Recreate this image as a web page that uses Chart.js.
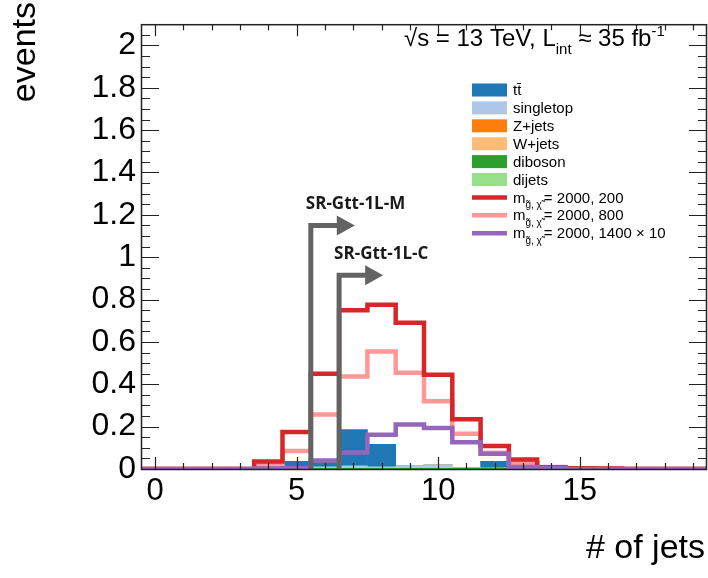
<!DOCTYPE html>
<html>
<head>
<meta charset="utf-8">
<script src="https://cdn.jsdelivr.net/npm/chart.js@4/dist/chart.umd.min.js"></script>
<style>
  html, body { margin: 0; padding: 0; background: #fff; }
  #wrap { width: 708px; height: 578px; }
</style>
</head>
<body>
<div id="wrap"><canvas id="jetsChart"></canvas></div>
<script>
/******************* jet multiplicity, stacked backgrounds + signals ***********************/
// one bin per jet count, bin n spans n-0.5 .. n+0.5
const nJets = [0, 1, 2, 3, 4, 5, 6, 7, 8, 9, 10, 11, 12, 13, 14, 15, 16, 17, 18, 19];

// backgrounds (stacked)
const ttbar     = [0, 0, 0, 0, 0.020, 0.025, 0.020, 0.170, 0.107, 0, 0, 0, 0.030, 0, 0, 0, 0, 0, 0, 0];
const singletop = [0, 0, 0, 0, 0.005, 0.008, 0.007, 0.012, 0.007, 0.011, 0.015, 0.004, 0.003, 0, 0, 0, 0, 0, 0, 0];
const zjets     = [0, 0, 0, 0, 0, 0, 0, 0, 0, 0, 0, 0, 0, 0, 0, 0, 0, 0, 0, 0];
const wjets     = [0, 0, 0, 0, 0, 0, 0, 0, 0, 0, 0, 0, 0, 0, 0, 0, 0, 0, 0, 0];
const diboson   = [0, 0, 0, 0, 0, 0.003, 0.003, 0.003, 0.003, 0.003, 0.003, 0.003, 0.003, 0.003, 0, 0, 0, 0, 0, 0];
const dijets    = [0, 0, 0, 0, 0, 0, 0, 0, 0, 0, 0, 0, 0, 0, 0, 0, 0, 0, 0, 0];

// signals (gluino, neutralino masses)
const sig2000_200  = [0, 0, 0, 0, 0.035, 0.175, 0.450, 0.750, 0.775, 0.690, 0.445, 0.235, 0.108, 0.045, 0.008, 0.004, 0.002, 0, 0, 0];
const sig2000_800  = [0, 0, 0, 0, 0.020, 0.085, 0.257, 0.437, 0.555, 0.455, 0.320, 0.167, 0.077, 0.027, 0.010, 0.004, 0.003, 0, 0, 0];
const sig2000_1400 = [0, 0, 0, 0, 0.002, 0.004, 0.040, 0.078, 0.162, 0.210, 0.194, 0.126, 0.072, 0.010, 0.005, 0, 0, 0, 0, 0]; // x10

const bkgNames = ['tt\u0304', 'singletop', 'Z+jets', 'W+jets', 'diboson', 'dijets'];
const sigMasses = ['2000, 200', '2000, 800', '2000, 1400 \u00d7 10'];

// signal region cuts (>= 6 and >= 7 jets)
const cutNames = ['SR-Gtt-1L-M', 'SR-Gtt-1L-C'];
const cutJets = [5.5, 6.5];
const cutHeights = [1.15, 0.915];

const xTickValues = [0, 5, 10, 15];
const yTickValues = [0, 0.2, 0.4, 0.6, 0.8, 1, 1.2, 1.4, 1.6, 1.8, 2];

const FONT = '"Liberation Sans", Arial, sans-serif';

function barPoints(values) {
    return values.map((v, i) => ({x: nJets[i], y: v}));
}
// histogram outline: one point per left bin edge plus the last right edge
function stepPoints(values) {
    const pts = values.map((v, i) => ({x: nJets[i] - 0.5, y: v}));
    pts.push({x: nJets[nJets.length - 1] + 0.5, y: values[values.length - 1]});
    return pts;
}

function sigLine(values, color, stack) {
    return {
        type: 'line',
        data: stepPoints(values),
        borderColor: color,
        backgroundColor: color,
        borderWidth: 4.5,
        stepped: 'before',
        pointRadius: 0,
        fill: false,
        stack: stack,
        borderJoinStyle: 'miter',
        borderCapStyle: 'butt'
    };
}
function bkgBar(values, color) {
    return {
        type: 'bar',
        data: barPoints(values),
        backgroundColor: color,
        borderWidth: 0,
        barPercentage: 1.0,
        categoryPercentage: 1.0,
        stack: 'bkg'
    };
}

const data = {
    datasets: [
        sigLine(sig2000_1400, '#9467bd', 's3'),
        sigLine(sig2000_200, '#d62728', 's1'),
        sigLine(sig2000_800, '#ff9896', 's2'),
        bkgBar(diboson, '#2ca02c'),
        bkgBar(singletop, '#aec7e8'),
        bkgBar(ttbar, '#1f77b4'),
        bkgBar(zjets, '#ff7f0e'),
        bkgBar(wjets, '#ffbb78'),
        bkgBar(dijets, '#98df8a')
    ]
};
// legend entries -> dataset index
const bkgLegend = [5, 4, 6, 7, 3, 8];
const sigLegend = [1, 2, 0];

const rootStyle = {
    id: 'rootStyle',
    afterDatasetsDraw(chart) {
        const {ctx, chartArea: a, scales: {x, y}} = chart;
        ctx.save();

        // cut arrows
        cutJets.forEach((c, i) => {
            const px = x.getPixelForValue(c);
            const py = y.getPixelForValue(cutHeights[i]);
            ctx.strokeStyle = '#636363';
            ctx.fillStyle = '#636363';
            ctx.lineWidth = 5;
            ctx.lineJoin = 'miter';
            ctx.beginPath();
            ctx.moveTo(px, y.getPixelForValue(0) + 1);
            ctx.lineTo(px, py);
            ctx.lineTo(px + 27, py);
            ctx.stroke();
            ctx.beginPath();
            ctx.moveTo(px + 26, py - 10);
            ctx.lineTo(px + 44, py);
            ctx.lineTo(px + 26, py + 10);
            ctx.closePath();
            ctx.fill();
            ctx.fillStyle = '#1a1a1a';
            ctx.font = 'bold 17px "Open Sans"';
            ctx.textAlign = 'left';
            ctx.textBaseline = 'alphabetic';
            ctx.fillText(cutNames[i], px - 5, py - 16);
        });

        // frame
        ctx.strokeStyle = '#222';
        ctx.lineWidth = 1.5;
        ctx.strokeRect(a.left + 0.5, a.top + 0.5, a.right - a.left - 1, a.bottom - a.top);

        // inward ticks on all four sides
        ctx.lineWidth = 1.2;
        ctx.beginPath();
        for (let v = 0; v <= 19; v++) {
            const px = Math.round(x.getPixelForValue(v)) + 0.5;
            const len = v % 5 === 0 ? 12 : 6;
            ctx.moveTo(px, a.bottom); ctx.lineTo(px, a.bottom - len);
            ctx.moveTo(px, a.top); ctx.lineTo(px, a.top + len);
        }
        for (let k = 1; k < 42; k++) {
            const py = Math.round(y.getPixelForValue(k * 0.05)) + 0.5;
            const len = k % 4 === 0 ? 18 : 9;
            ctx.moveTo(a.left, py); ctx.lineTo(a.left + len, py);
            ctx.moveTo(a.right, py); ctx.lineTo(a.right - len, py);
        }
        ctx.stroke();
        ctx.restore();
    },
    afterDraw(chart) {
        const {ctx} = chart;
        ctx.save();
        ctx.fillStyle = '#000';

        // axis titles
        ctx.font = '34px ' + FONT;
        ctx.textAlign = 'right';
        ctx.textBaseline = 'alphabetic';
        ctx.fillText('# of jets', 705, 558);
        ctx.save();
        ctx.translate(35, 2);
        ctx.rotate(-Math.PI / 2);
        ctx.fillText('events', 0, 0);
        ctx.restore();

        // energy / luminosity
        ctx.textAlign = 'left';
        let tx = 404;
        const put = (s, size, dy) => {
            ctx.font = size + 'px ' + FONT;
            ctx.fillText(s, tx, 46 + dy);
            tx += ctx.measureText(s).width;
        };
        put('\u221as = 13 TeV, L', 24, 0);
        put('int', 15, 8);
        put(' \u2248 35 fb', 24, 0);
        put('-1', 15, -10);

        // legend
        const x0 = 472, w = 35, y0 = 90, dy = 17.9;
        let row = 0;
        ctx.textBaseline = 'middle';
        bkgLegend.forEach((di, i) => {
            const cy = y0 + dy * row++;
            ctx.fillStyle = chart.data.datasets[di].backgroundColor;
            ctx.fillRect(x0, cy - 6.5, w, 13);
            ctx.fillStyle = '#000';
            ctx.font = '15px ' + FONT;
            ctx.fillText(bkgNames[i], x0 + 41, cy + 1);
        });
        sigLegend.forEach((di, i) => {
            const cy = y0 + dy * row++;
            ctx.strokeStyle = chart.data.datasets[di].borderColor;
            ctx.lineWidth = 4.5;
            ctx.beginPath();
            ctx.moveTo(x0, cy); ctx.lineTo(x0 + w, cy);
            ctx.stroke();
            ctx.fillStyle = '#000';
            let lx = x0 + 41;
            ctx.font = '15px ' + FONT;
            ctx.fillText('m', lx, cy + 1);
            lx += ctx.measureText('m').width;
            ctx.font = '10px ' + FONT;
            ctx.fillText('g\u0303, \u03c7\u0303', lx, cy + 8);
            lx += ctx.measureText('g\u0303, \u03c7\u0303').width + 2;
            ctx.font = '15px ' + FONT;
            ctx.fillText('= ' + sigMasses[i], lx, cy + 1);
        });
        ctx.restore();
    }
};

const config = {
    type: 'bar',
    data: data,
    options: {
        responsive: true,
        maintainAspectRatio: false,
        animation: false,
        layout: {padding: {top: 4, right: 1, left: 0, bottom: 0}},
        plugins: {
            legend: {display: false},
            tooltip: {enabled: false}
        },
        scales: {
            x: {
                type: 'linear',
                min: -0.5,
                max: 19.5,
                offset: false,
                afterBuildTicks: (s) => { s.ticks = xTickValues.map(v => ({value: v})); },
                afterFit: (s) => { s.height = 109; },
                grid: {display: false, drawTicks: false, offset: false},
                border: {display: false},
                ticks: {
                    font: {family: FONT, size: 31},
                    color: '#000',
                    padding: 4,
                    maxRotation: 0,
                    autoSkip: false,
                    callback: (v) => String(v)
                }
            },
            y: {
                min: 0,
                max: 2.1,
                stacked: true,
                afterBuildTicks: (s) => { s.ticks = yTickValues.map(v => ({value: v})); },
                afterFit: (s) => { s.width = 141; },
                grid: {display: false, drawTicks: false},
                border: {display: false},
                ticks: {
                    font: {family: FONT, size: 32},
                    color: '#000',
                    padding: 5,
                    autoSkip: false,
                    callback: (v) => String(v)
                }
            }
        }
    },
    plugins: [rootStyle]
};

const jetsChart = new Chart(document.getElementById('jetsChart'), config);
</script>
</body>
</html>
